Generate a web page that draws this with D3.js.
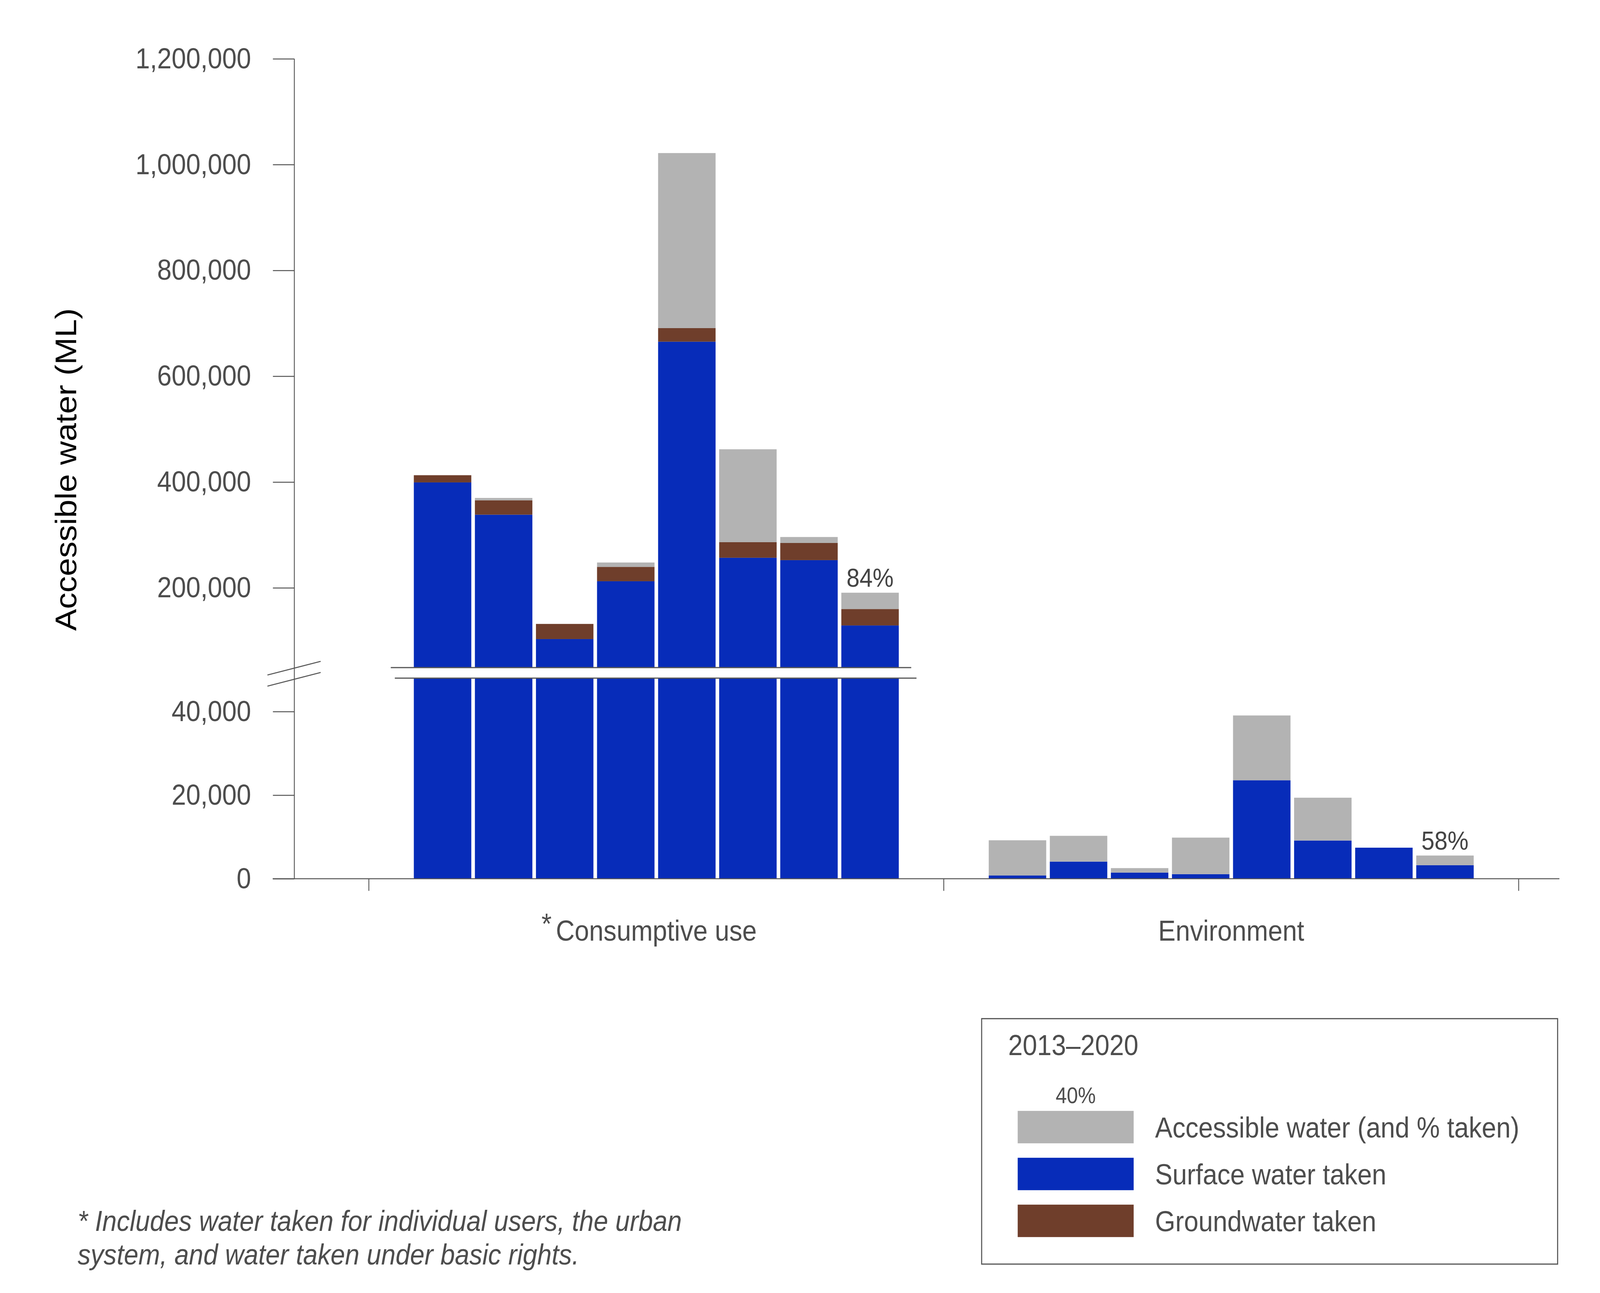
<!DOCTYPE html>
<html>
<head>
<meta charset="utf-8">
<script src="https://cdn.jsdelivr.net/npm/d3@7"></script>
<style>
    html, body { margin: 0; padding: 0; background: #fff; overflow: hidden; }
    #chart-area { width: 100vw; height: 100vh; }
    #chart-area svg { display: block; }
</style>
</head>
<body>
<div id="chart-area"></div>
<script>

// ---- data (ML), years 2013-2020 ----
const categories = ["Consumptive use", "Environment"];
const years = ["2013", "2014", "2015", "2016", "2017", "2018", "2019", "2020"];

const surfaceConsumptive = [399300, 338300, 103200, 212500, 665300, 256900, 252400, 128900];
const groundConsumptive = [13600, 27100, 28600, 27100, 25600, 29400, 32400, 31000];
const accessibleConsumptive = [412900, 369900, 131800, 247900, 1021800, 461900, 296100, 190800];

const surfaceEnvironment = [780, 4100, 1470, 1100, 23570, 9140, 7430, 3240];
const groundEnvironment = [0, 0, 0, 0, 0, 0, 0, 0];
const accessibleEnvironment = [9200, 10270, 2540, 9840, 39070, 19390, 7430, 5550];

const upperTicks = [200000, 400000, 600000, 800000, 1000000, 1200000];
const lowerTicks = [0, 20000, 40000];

const legendItems = ["Accessible water (and % taken)", "Surface water taken", "Groundwater taken"];
const footnoteLines = ["* Includes water taken for individual users, the urban",
    "system, and water taken under basic rights."];

const colors = {accessible: "#b3b3b3", surface: "#072cb9", ground: "#6f3e2b"};


class BrokenBarChart {

    constructor(parentElement) {
        this.parentElement = parentElement;
        this.initVis();
    }

    initVis() {
        let vis = this;

        vis.width = 4553;
        vis.height = 3310;
        vis.font = "'Liberation Sans', Arial, sans-serif";
        vis.textColor = "#4d4d4d";
        vis.lineColor = "#555";

        // drawn in a fixed 4553x3310 coordinate space, stretched to fill the window
        vis.svg = d3.select("#" + vis.parentElement).append("svg")
            .attr("width", "100%")
            .attr("height", "100%")
            .attr("viewBox", `0 0 ${vis.width} ${vis.height}`)
            .attr("preserveAspectRatio", "none")
            .style("font-family", vis.font);

        vis.svg.append("rect")
            .attr("width", vis.width).attr("height", vis.height)
            .attr("fill", "#fff");

        // axis positions
        vis.axisX = 837.6;
        vis.baseY = 2249.5;

        // two panels of the broken y axis
        vis.lowMax = 48000;
        vis.highMin = 50000;
        vis.yLow = d3.scaleLinear().domain([0, vis.lowMax]).range([vis.baseY, 1736]);
        vis.yHigh = d3.scaleLinear().domain([vis.highMin, 1200000]).range([1708, 150.5]);

        // category bands, ticks sit on the band edges
        vis.x = d3.scaleBand().domain(categories).range([1049.6, 4321.6]).padding(0);
        vis.xYear = d3.scaleBand().domain(years)
            .range([-690, 690])
            .paddingInner(0.059).paddingOuter(0);

        vis.wrangleData();
    }

    wrangleData() {
        let vis = this;

        let series = {
            "Consumptive use": [surfaceConsumptive, groundConsumptive, accessibleConsumptive],
            "Environment": [surfaceEnvironment, groundEnvironment, accessibleEnvironment]
        };

        // build stacked segments: surface, then groundwater, then the rest of accessible water
        vis.segments = [];
        vis.labels = [];
        categories.forEach(function(cat) {
            let [surf, ground, acc] = series[cat];
            years.forEach(function(yr, i) {
                let taken = surf[i] + ground[i];
                vis.segments.push({cat: cat, year: yr, y0: 0, y1: surf[i], color: colors.surface});
                vis.segments.push({cat: cat, year: yr, y0: surf[i], y1: taken, color: colors.ground});
                vis.segments.push({cat: cat, year: yr, y0: taken, y1: Math.max(taken, acc[i]), color: colors.accessible});
                if (i === years.length - 1) {
                    vis.labels.push({cat: cat, year: yr, top: Math.max(taken, acc[i]), pct: taken / acc[i]});
                }
            });
        });

        vis.updateVis();
    }

    yOf(v) {
        return v >= this.highMin ? this.yHigh(v) : this.yLow(v);
    }

    updateVis() {
        let vis = this;

        let panels = [
            {scale: vis.yHigh, lo: vis.highMin, hi: 1200000},
            {scale: vis.yLow, lo: 0, hi: vis.lowMax}
        ];

        // bars, clamped into each panel
        panels.forEach(function(p) {
            let segs = vis.segments.filter(d => d.y1 > d.y0 && d.y1 > p.lo && d.y0 < p.hi);
            vis.svg.append("g").selectAll("rect")
                .data(segs)
                .enter()
                .append("rect")
                .attr("x", d => vis.x(d.cat) + vis.x.bandwidth() / 2 + vis.xYear(d.year))
                .attr("width", vis.xYear.bandwidth())
                .attr("y", d => p.scale(Math.min(d.y1, p.hi)))
                .attr("height", d => p.scale(Math.max(d.y0, p.lo)) - p.scale(Math.min(d.y1, p.hi)))
                .attr("fill", d => d.color);
        });

        // break lines across the cut bars
        vis.svg.append("line")
            .attr("x1", 1112).attr("x2", 2593).attr("y1", 1709).attr("y2", 1709)
            .attr("stroke", vis.lineColor).attr("stroke-width", 3);
        vis.svg.append("line")
            .attr("x1", 1123.5).attr("x2", 2608).attr("y1", 1736).attr("y2", 1736)
            .attr("stroke", vis.lineColor).attr("stroke-width", 3);

        // y axes
        let styleAxis = function(g) {
            g.select(".domain").remove();
            g.selectAll("line").attr("stroke", vis.lineColor).attr("stroke-width", 2.5);
            g.selectAll("text")
                .attr("fill", vis.textColor)
                .style("font-size", "74px")
                .style("font-family", vis.font);
        };

        vis.svg.append("g")
            .attr("transform", `translate(${vis.axisX},0)`)
            .call(d3.axisLeft(vis.yHigh).tickValues(upperTicks).tickSize(61).tickPadding(62)
                .tickFormat(d3.format(",")))
            .call(styleAxis);

        vis.svg.append("g")
            .attr("transform", `translate(${vis.axisX},0)`)
            .call(d3.axisLeft(vis.yLow).tickValues(lowerTicks).tickSize(61).tickPadding(62)
                .tickFormat(d3.format(",")))
            .call(styleAxis);

        vis.svg.append("line")
            .attr("x1", vis.axisX).attr("x2", vis.axisX)
            .attr("y1", vis.yHigh(1200000)).attr("y2", vis.baseY)
            .attr("stroke", vis.lineColor).attr("stroke-width", 2.5);

        // axis break marks
        [0, 28.5].forEach(function(off) {
            vis.svg.append("line")
                .attr("x1", 761).attr("y1", 1728 + off)
                .attr("x2", 912.5).attr("y2", 1693 + off)
                .attr("stroke", vis.lineColor).attr("stroke-width", 2.5);
        });

        // y axis title
        vis.svg.append("text")
            .attr("transform", "translate(217,1202) rotate(-90)")
            .attr("text-anchor", "middle")
            .attr("fill", "#000")
            .style("font-size", "84px")
            .text("Accessible water (ML)");

        // x axis
        vis.svg.append("line")
            .attr("x1", 776).attr("x2", 4437.5)
            .attr("y1", vis.baseY).attr("y2", vis.baseY)
            .attr("stroke", vis.lineColor).attr("stroke-width", 2.5);

        let edges = categories.map(c => vis.x(c)).concat([vis.x.range()[1]]);
        vis.svg.append("g").selectAll("line")
            .data(edges)
            .enter()
            .append("line")
            .attr("x1", d => d).attr("x2", d => d)
            .attr("y1", vis.baseY).attr("y2", vis.baseY + 31)
            .attr("stroke", vis.lineColor).attr("stroke-width", 2.5);

        vis.svg.append("g").selectAll("text")
            .data(categories)
            .enter()
            .append("text")
            .attr("x", d => vis.x(d) + vis.x.bandwidth() / 2)
            .attr("y", 2407.7)
            .attr("text-anchor", "middle")
            .attr("fill", vis.textColor)
            .style("font-size", "74px")
            .text(d => d);

        // footnote marker in front of "Consumptive use"
        vis.svg.append("text")
            .attr("x", vis.x(categories[0]) + vis.x.bandwidth() / 2 - 298)
            .attr("y", 2407.7 - 18)
            .attr("text-anchor", "end")
            .attr("fill", vis.textColor)
            .style("font-size", "74px")
            .text("*");

        // percentage labels
        vis.svg.append("g").selectAll("text")
            .data(vis.labels)
            .enter()
            .append("text")
            .attr("x", d => vis.x(d.cat) + vis.x.bandwidth() / 2 + vis.xYear(d.year) + vis.xYear.bandwidth() / 2)
            .attr("y", d => vis.yOf(d.top) - 15)
            .attr("text-anchor", "middle")
            .attr("fill", "#444")
            .style("font-size", "67px")
            .text(d => d3.format(".0%")(d.pct));

        // legend
        let legend = vis.svg.append("g");
        legend.append("rect")
            .attr("x", 2793.4).attr("y", 2607.7)
            .attr("width", 1639).attr("height", 628.3)
            .attr("fill", "none")
            .attr("stroke", vis.lineColor).attr("stroke-width", 3);

        legend.append("text")
            .attr("x", 2869).attr("y", 2701)
            .attr("fill", vis.textColor)
            .style("font-size", "74px")
            .text("2013\u20132020");

        legend.append("text")
            .attr("x", 3061).attr("y", 2824)
            .attr("text-anchor", "middle")
            .attr("fill", vis.textColor)
            .style("font-size", "57px")
            .text("40%");

        let legendColors = [colors.accessible, colors.surface, colors.ground];
        let rows = legend.selectAll(".legend-row")
            .data(legendItems)
            .enter()
            .append("g")
            .attr("class", "legend-row")
            .attr("transform", (d, i) => `translate(0, ${2843.8 + i * 120})`);

        rows.append("rect")
            .attr("x", 2896).attr("y", 0)
            .attr("width", 330).attr("height", 83)
            .attr("fill", (d, i) => legendColors[i]);

        rows.append("text")
            .attr("x", 3287).attr("y", 41.5)
            .attr("dy", "0.36em")
            .attr("fill", vis.textColor)
            .style("font-size", "74px")
            .text(d => d);

        // footnote
        vis.svg.append("g").selectAll("text")
            .data(footnoteLines)
            .enter()
            .append("text")
            .attr("x", 221)
            .attr("y", (d, i) => 3151 + i * 86)
            .attr("fill", vis.textColor)
            .style("font-size", "74px")
            .style("font-style", "italic")
            .text(d => d);
    }
}

new BrokenBarChart("chart-area");

</script>
</body>
</html>
